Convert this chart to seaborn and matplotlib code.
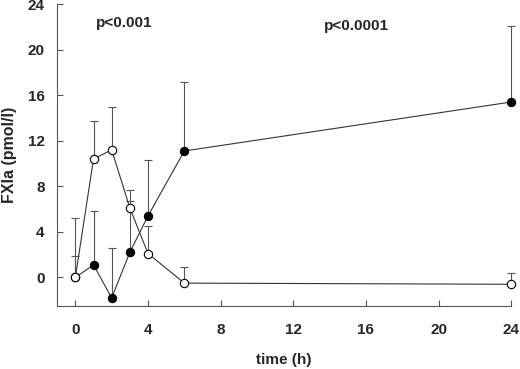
import numpy as np
import pandas as pd
import matplotlib
matplotlib.use("Agg")
import matplotlib.pyplot as plt
import seaborn as sns

# --- Data ---
time_h = [0, 1, 2, 3, 4, 6, 24]
filled_mean = [0.0, 1.1, -1.8, 2.2, 5.4, 11.1, 15.4]
filled_upper = [1.9, 5.8, 2.6, 6.7, 10.3, 17.2, 22.1]
open_mean = [0.0, 10.4, 11.2, 6.1, 2.1, -0.5, -0.6]
open_upper = [5.2, 13.7, 15.0, 7.7, 4.5, 0.9, 0.4]

xticks = [0, 4, 8, 12, 16, 20, 24]
yticks = [0, 4, 8, 12, 16, 20, 24]

df = pd.DataFrame({
    "time": time_h * 2,
    "value": filled_mean + open_mean,
    "group": ["filled"] * len(time_h) + ["open"] * len(time_h),
})

sns.set_style("ticks")
plt.rcParams["font.family"] = ["Liberation Sans", "DejaVu Sans"]
plt.rcParams["font.weight"] = "bold"

fig = plt.figure(figsize=(5.2, 3.69), dpi=100)
ax = fig.add_axes([0.11, 0.171, 0.873, 0.818])

# upper-only error bars
for mean, upper in [(filled_mean, filled_upper), (open_mean, open_upper)]:
    err = np.array(upper) - np.array(mean)
    eb = ax.errorbar(time_h, mean, yerr=[np.zeros_like(err), err], fmt="none",
                     ecolor="#555555", elinewidth=0.8, capsize=3, capthick=0.8, zorder=1)
    for art in eb.lines[1] + eb.lines[2]:
        art.set_clip_on(False)

sns.lineplot(data=df[df.group == "filled"], x="time", y="value", ax=ax,
             color="#333333", linewidth=0.8, marker="o", markersize=6,
             markerfacecolor="black", markeredgecolor="black", zorder=3, clip_on=False)
sns.lineplot(data=df[df.group == "open"], x="time", y="value", ax=ax,
             color="#333333", linewidth=0.8, marker="o", markersize=6,
             markerfacecolor="white", markeredgecolor="black", markeredgewidth=0.8,
             zorder=3, clip_on=False)

ax.set_xlim(-1, 24)
ax.set_ylim(-2.5, 24)
ax.set_xticks(xticks)
ax.set_yticks(yticks)
ax.tick_params(direction="in", length=4, width=0.8, color="#555555", labelsize=11)
for lbl in ax.get_xticklabels() + ax.get_yticklabels():
    lbl.set_fontweight("bold")
ax.tick_params(axis="x", pad=12)
ax.tick_params(axis="y", pad=9)
sns.despine(ax=ax)
for s in ["left", "bottom"]:
    ax.spines[s].set_color("#555555")
    ax.spines[s].set_linewidth(0.8)

ax.set_xlabel("time (h)", fontsize=11, fontweight="bold", labelpad=12)
ax.set_ylabel("FXIa (pmol/l)", fontsize=11.5, fontweight="bold", labelpad=8)

ax.text(2.7, 22.3, "p<0.001", ha="center", va="center", fontsize=11, fontweight="bold")
ax.text(15.5, 22.1, "p<0.0001", ha="center", va="center", fontsize=11, fontweight="bold")

fig.savefig("out.png", dpi=100)
